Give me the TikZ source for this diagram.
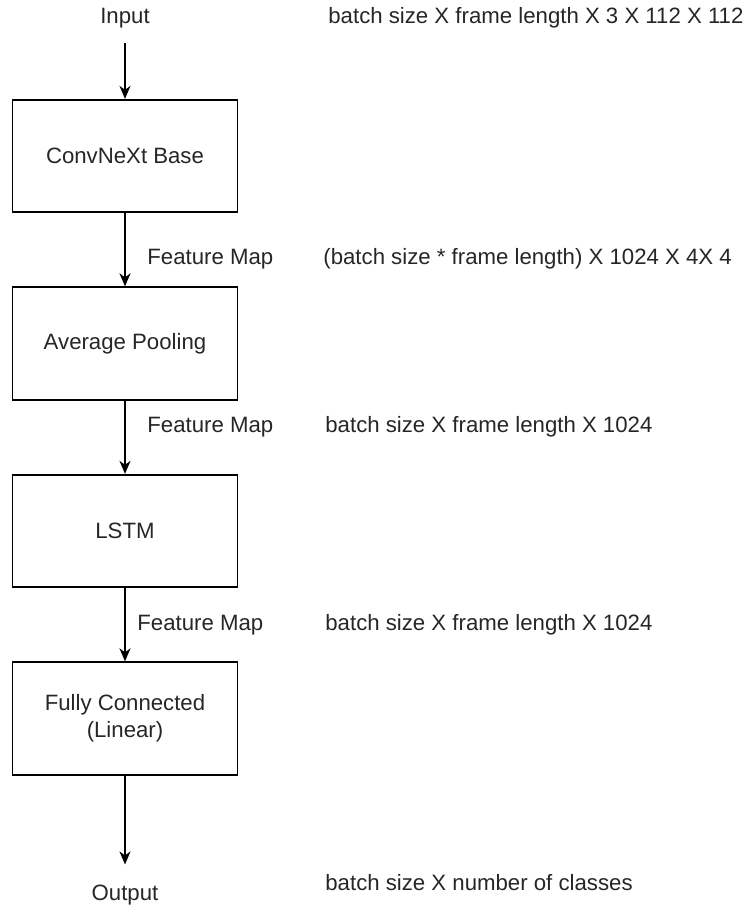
\documentclass[tikz,border=0pt]{standalone}
\usepackage{fontspec}
\setmainfont{Liberation Sans}
\usetikzlibrary{positioning,arrows.meta}

\begin{document}
\begin{tikzpicture}[every node/.style={text=black!85},
                    layer/.style={draw=black,line width=0.9pt,minimum width=112.5pt,minimum height=56.25pt,align=center},
                    lbl/.style={inner sep=0pt,text height=8pt,text depth=2.3pt},
                    flow/.style={draw=black,line width=0.9pt,-{Stealth[length=6.5pt,width=5.5pt,inset=2pt]}}]
            \fontsize{11.1}{13.5}\selectfont
            \tikzset{node distance=36.6pt}
            \useasboundingbox (0,0) rectangle (374pt,-453pt);
            % network blocks
            \node[layer] (conv) at (62.5pt,-78pt) {ConvNeXt Base};
            \node[layer,below=of conv] (pool) {Average Pooling};
            \node[layer,below=of pool] (lstm) {LSTM};
            \node[layer,below=of lstm] (fc) {Fully Connected\\(Linear)};
            \node[lbl,above=35.2pt of conv] (in) {Input};
            \node[lbl,below=54.4pt of fc] (out) {Output};
            % arrows
            \draw[flow,shorten <=7.2pt] (in) -- (conv);
            \draw[flow] (conv) -- (pool);
            \draw[flow] (pool) -- (lstm);
            \draw[flow] (lstm) -- (fc);
            \draw[flow,shorten >=10pt] (fc) -- (out);
            % labels on the arrows
            \path (conv.south) -- (pool.north) coordinate[midway] (m1);
            \path (pool.south) -- (lstm.north) coordinate[midway] (m2);
            \path (lstm.south) -- (fc.north) coordinate[midway] (m3);
            \node[lbl,right=11pt of m1,yshift=-4.75pt] (fm1) {Feature Map};
            \node[lbl,right=11pt of m2,yshift=5pt] (fm2) {Feature Map};
            \node[lbl,right=6pt of m3] (fm3) {Feature Map};
            % tensor sizes
            \coordinate (dimx) at (162.5pt,0);
            \node[lbl,anchor=west,xshift=1.5pt] (d0) at (in -| dimx) {batch size X frame length X 3 X 112 X 112};
            \node[lbl,anchor=west,xshift=-1pt] (d1) at (fm1 -| dimx) {(batch size * frame length) X 1024 X 4X 4};
            \node[lbl,anchor=west] (d2) at (fm2 -| dimx) {batch size X frame length X 1024};
            \node[lbl,anchor=west] (d3) at (fm3 -| dimx) {batch size X frame length X 1024};
            \node[lbl,anchor=west,yshift=5pt] (d4) at (out -| dimx) {batch size X number of classes};
\end{tikzpicture}
\end{document}
